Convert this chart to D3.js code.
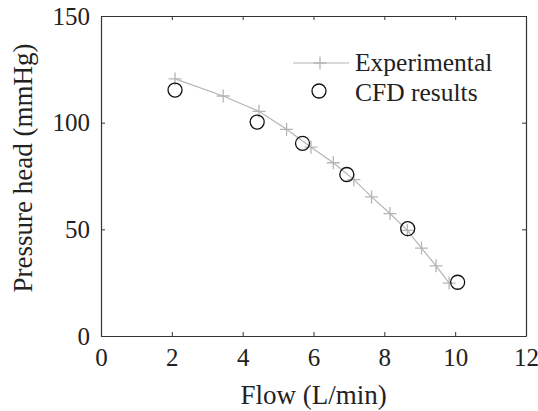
<!DOCTYPE html>
<html>
<head>
<meta charset="utf-8">
<script src="https://cdn.jsdelivr.net/npm/d3@7"></script>
<style>
  body { margin: 0; background: #fff; }
</style>
</head>
<body>
<div id="chart"></div>
<script>
// experimental curve (gray crosses)
const expFlow = [2.09, 3.45, 4.46, 5.24, 5.93, 6.56, 7.14, 7.64, 8.16, 8.65, 9.05, 9.46, 9.83];
const expHead = [120.5, 112.5, 105.3, 96.9, 88.5, 81.2, 73.3, 65.2, 57.4, 49.5, 41.2, 32.9, 24.8];
// CFD points (open circles)
const cfdFlow = [2.09, 4.41, 5.69, 6.94, 8.66, 10.07];
const cfdHead = [115.3, 100.3, 90.3, 75.7, 50.3, 25.2];

const xTicks = [0, 2, 4, 6, 8, 10, 12];
const yTicks = [0, 50, 100, 150];
const legendLabels = ['Experimental', 'CFD results'];

const w = 538;
const h = 411;
const m = { left: 101, right: 12, top: 16, bottom: 75 };
const gray = '#b5b5b5';
const serif = '"Times New Roman"';
const textColor = '#222';

const svg = d3.select('#chart').append('svg')
    .attr('width', w).attr('height', h)
    .style('font-family', serif);

const xScale = d3.scaleLinear().domain([0, 12]).range([m.left, w - m.right]);
const yScale = d3.scaleLinear().domain([0, 150]).range([h - m.bottom, m.top]);

// frame with inward ticks on all four sides
const axisColor = '#333';
const addAxis = (axis, tx, ty, showLabels) => {
    const g = svg.append('g').attr('transform', `translate(${tx}, ${ty})`).call(axis);
    g.attr('font-family', null).attr('font-size', null);
    g.select('.domain').attr('stroke', axisColor).attr('stroke-width', 1.2);
    g.selectAll('.tick line').attr('stroke', axisColor).attr('stroke-width', 1);
    if (!showLabels) {
        g.selectAll('.tick text').remove();
    } else {
        g.selectAll('.tick text')
         .style('font-family', serif)
         .style('font-size', '25px')
         .attr('fill', textColor);
    }
    return g;
};

addAxis(d3.axisBottom(xScale).tickValues(xTicks).tickSizeInner(-4).tickSizeOuter(0).tickPadding(12),
    0, yScale(0), true);
addAxis(d3.axisTop(xScale).tickValues(xTicks).tickSizeInner(-4).tickSizeOuter(0), 0, yScale(150), false);
addAxis(d3.axisLeft(yScale).tickValues(yTicks).tickSizeInner(-4).tickSizeOuter(0).tickPadding(11),
    xScale(0), 0, true);
addAxis(d3.axisRight(yScale).tickValues(yTicks).tickSizeInner(-4).tickSizeOuter(0), xScale(12), 0, false);

// experimental line
const expData = expFlow.map((f, i) => ({ x: f, y: expHead[i] }));
svg.append('path')
   .datum(expData)
   .attr('d', d3.line().x(d => xScale(d.x)).y(d => yScale(d.y)))
   .attr('fill', 'none')
   .attr('stroke', gray)
   .attr('stroke-width', 1.2);

const crossPath = (cx, cy, s) => `M${cx - s},${cy}H${cx + s}M${cx},${cy - s}V${cy + s}`;

svg.selectAll('.cross')
   .data(expData)
   .enter()
   .append('path')
   .attr('class', 'cross')
   .attr('d', d => crossPath(xScale(d.x), yScale(d.y), 6.5))
   .attr('stroke', gray)
   .attr('stroke-width', 1.3);

// CFD circles
const cfdData = cfdFlow.map((f, i) => ({ x: f, y: cfdHead[i] }));
svg.selectAll('.cfd')
   .data(cfdData)
   .enter()
   .append('circle')
   .attr('class', 'cfd')
   .attr('cx', d => xScale(d.x))
   .attr('cy', d => yScale(d.y))
   .attr('r', 7)
   .attr('fill', 'none')
   .attr('stroke', '#111')
   .attr('stroke-width', 1.3);

// legend
const legend = svg.append('g').attr('transform', 'translate(293, 63)');
legend.append('line').attr('x1', 0).attr('x2', 56).attr('y1', 0).attr('y2', 0)
      .attr('stroke', gray).attr('stroke-width', 1.2);
legend.append('path').attr('d', crossPath(27, 0, 6.5)).attr('stroke', gray).attr('stroke-width', 1.3);
legend.append('circle').attr('cx', 26).attr('cy', 28).attr('r', 7)
      .attr('fill', 'none').attr('stroke', '#111').attr('stroke-width', 1.3);
legend.selectAll('.leg-text')
      .data(legendLabels)
      .enter()
      .append('text')
      .attr('class', 'leg-text')
      .attr('x', 62)
      .attr('y', (d, i) => 8 + i * 30)
      .style('font-family', serif)
      .style('font-size', '25.5px')
      .attr('fill', textColor)
      .text(d => d);

// axis titles
svg.append('text')
   .attr('x', (xScale(0) + xScale(12)) / 2)
   .attr('y', 404)
   .attr('text-anchor', 'middle')
   .style('font-family', serif)
   .style('font-size', '27px')
   .attr('fill', textColor)
   .text('Flow (L/min)');

svg.append('text')
   .attr('transform', `translate(32, 168) rotate(-90)`)
   .attr('text-anchor', 'middle')
   .style('font-family', serif)
   .style('font-size', '27px')
   .attr('fill', textColor)
   .text('Pressure head (mmHg)');
</script>
</body>
</html>
